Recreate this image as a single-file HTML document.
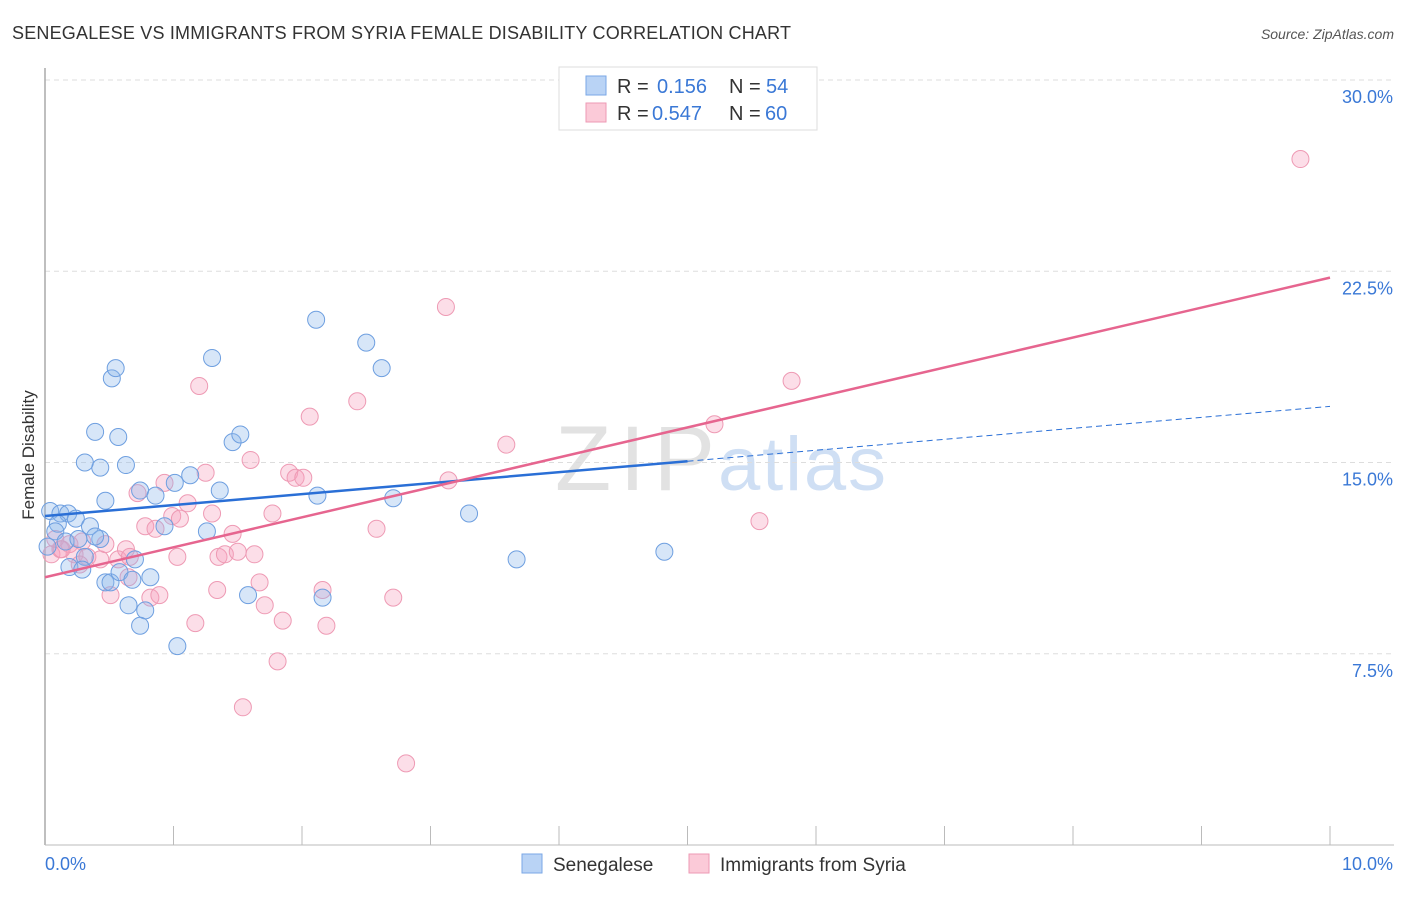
<!DOCTYPE html>
<html><head><meta charset="utf-8"><style>
body{margin:0;background:#fff;font-family:"Liberation Sans",sans-serif;}
svg text{font-family:"Liberation Sans",sans-serif;}
</style></head><body>
<svg id="chart" width="1406" height="892">
<text x="12" y="39" font-size="18" fill="#333" textLength="779">SENEGALESE VS IMMIGRANTS FROM SYRIA FEMALE DISABILITY CORRELATION CHART</text>
<text x="1394" y="39" font-size="14" fill="#555" font-style="italic" text-anchor="end">Source: ZipAtlas.com</text>
<text x="555" y="490" font-size="92" fill="#e2e2e2" textLength="160" font-family="Liberation Serif">ZIP</text>
<text x="718" y="490" font-size="76" fill="#cfdff4" textLength="168">atlas</text>
<g id="grid"></g>
<g id="pts"></g>
<g id="lines"></g>
<text transform="translate(34,455) rotate(-90)" font-size="17" fill="#333" text-anchor="middle">Female Disability</text>
<g>
<rect x="559" y="67" width="258" height="63" fill="#fff" stroke="#ddd"/>
<rect x="586" y="76" width="20" height="19" fill="#b9d3f5" stroke="#7aa7e6"/>
<text y="93" font-size="20" fill="#333"><tspan x="617">R =</tspan><tspan x="657" fill="#3a78d6">0.156</tspan><tspan x="729">N =</tspan><tspan x="766" fill="#3a78d6">54</tspan></text>
<rect x="586" y="103" width="20" height="19" fill="#fbcad8" stroke="#ee9ab4"/>
<text y="120" font-size="20" fill="#333"><tspan x="617">R =</tspan><tspan x="652" fill="#3a78d6">0.547</tspan><tspan x="729">N =</tspan><tspan x="765" fill="#3a78d6">60</tspan></text>
</g>
<g>
<rect x="522" y="854" width="20" height="19" fill="#b9d3f5" stroke="#7aa7e6"/>
<text x="553" y="871" font-size="19" fill="#333">Senegalese</text>
<rect x="689" y="854" width="20" height="19" fill="#fbcad8" stroke="#ee9ab4"/>
<text x="720" y="871" font-size="19" fill="#333">Immigrants from Syria</text>
</g>
</svg>
<script>
const yTicks=[7.5,15,22.5,30];
const yTickLabels=["7.5%","15.0%","22.5%","30.0%"];
const xTickLabels=["0.0%","10.0%"];
const blueX=[0.04,0.12,0.18,0.10,0.24,0.35,0.08,0.02,0.16,0.26,0.43,0.39,0.31,0.19,0.29,0.47,0.51,0.58,0.68,0.70,0.82,0.65,0.78,0.74,1.03,0.47,0.74,0.86,1.01,1.13,1.36,0.93,1.26,1.58,2.16,2.12,2.71,3.30,3.67,4.82,0.52,0.55,1.30,0.39,0.57,0.43,0.31,0.63,1.46,1.52,2.11,2.50,2.62];
const blueY=[13.1,13.0,13.0,12.6,12.8,12.5,12.3,11.7,11.9,12.0,12.0,12.1,11.3,10.9,10.8,10.3,10.3,10.7,10.4,11.2,10.5,9.4,9.2,8.6,7.8,13.5,13.9,13.7,14.2,14.5,13.9,12.5,12.3,9.8,9.7,13.7,13.6,13.0,11.2,11.5,18.3,18.7,19.1,16.2,16.0,14.8,15.0,14.9,15.8,16.1,20.6,19.7,18.7];
const pinkX=[0.05,0.12,0.08,0.19,0.23,0.33,0.43,0.29,0.51,0.57,0.63,0.66,0.65,0.78,0.86,0.82,0.89,0.72,0.93,0.99,1.05,1.11,1.03,1.17,1.25,1.30,1.35,1.40,1.34,1.46,1.50,1.63,1.67,1.71,1.77,1.85,1.81,1.54,1.60,1.20,1.90,1.95,2.01,2.06,2.16,2.19,2.43,2.58,2.71,2.81,3.12,3.14,3.59,5.21,5.56,5.81,9.77,0.13,0.27,0.47];
const pinkY=[11.4,11.6,12.0,11.8,11.4,11.3,11.2,11.9,9.8,11.2,11.6,11.3,10.5,12.5,12.4,9.7,9.8,13.8,14.2,12.9,12.8,13.4,11.3,8.7,14.6,13.0,11.3,11.4,10.0,12.2,11.5,11.4,10.3,9.4,13.0,8.8,7.2,5.4,15.1,18.0,14.6,14.4,14.4,16.8,10.0,8.6,17.4,12.4,9.7,3.2,21.1,14.3,15.7,16.5,12.7,18.2,26.9,11.6,11.0,11.8];
const blueLine=[12.9,0.43,5.0];   // intercept, slope per %, solid end
const blueDashEnd=[10];
const pinkLine=[10.5,1.175];
const NS="http://www.w3.org/2000/svg";
const X0=45,X1=1330,YT=80,YB=845;
const sx=v=>X0+v*(X1-X0)/10;
const sy=v=>YB-v*(YB-YT)/30;
function mk(tag,attrs,parent){const e=document.createElementNS(NS,tag);for(const k in attrs)e.setAttribute(k,attrs[k]);parent.appendChild(e);return e;}
const grid=document.getElementById('grid');
yTicks.forEach((t,i)=>{
  const l=mk('line',{x1:X0,x2:1394,y1:sy(t),y2:sy(t),stroke:'#ddd','stroke-dasharray':'5,4'},grid);
  
  
  const tx=mk('text',{x:1393,y:sy(t)+23,'font-size':18,fill:'#3a78d6','text-anchor':'end'},grid);
  tx.textContent=yTickLabels[i];
  
  
});
const ax=mk('line',{x1:X0,x2:X0,y1:68,y2:YB,stroke:'#aaa','stroke-width':1.5},grid);


const bx=mk('line',{x1:X0,x2:1394,y1:YB,y2:YB,stroke:'#bbb'},grid);


for(let i=1;i<=10;i++){const t=mk('line',{x1:sx(i),x2:sx(i),y1:826,y2:YB,stroke:'#bbb'},grid);
  
  }
[[0,'start',45],[10,'end',1393]].forEach((d,i)=>{const t=mk('text',{x:d[2],y:870,'font-size':18,fill:'#3a78d6','text-anchor':d[1]},grid);t.textContent=xTickLabels[i];
  
  });
const pts=document.getElementById('pts');
pinkX.forEach((x,i)=>{const c=mk('circle',{cx:sx(x),cy:sy(pinkY[i]),r:8.5,fill:'rgba(246,160,188,0.35)',stroke:'#ee9ab4','stroke-width':1},pts);
  
  });
blueX.forEach((x,i)=>{const c=mk('circle',{cx:sx(x),cy:sy(blueY[i]),r:8.5,fill:'rgba(140,182,236,0.35)',stroke:'#6e9fe0','stroke-width':1},pts);
  
  });
const lines=document.getElementById('lines');
const bf=x=>blueLine[0]+blueLine[1]*x;
const pf=x=>pinkLine[0]+pinkLine[1]*x;
let l1=mk('line',{x1:sx(0),y1:sy(bf(0)),x2:sx(blueLine[2]),y2:sy(bf(blueLine[2])),stroke:'#2a6fd6','stroke-width':2.5},lines);


let l2=mk('line',{x1:sx(blueLine[2]),y1:sy(bf(blueLine[2])),x2:sx(blueDashEnd[0]),y2:sy(bf(blueDashEnd[0])),stroke:'#2a6fd6','stroke-width':1,'stroke-dasharray':'6,4'},lines);


let l3=mk('line',{x1:sx(0),y1:sy(pf(0)),x2:sx(10),y2:sy(pf(10)),stroke:'#e6658f','stroke-width':2.5},lines);


</script>
</body></html>
